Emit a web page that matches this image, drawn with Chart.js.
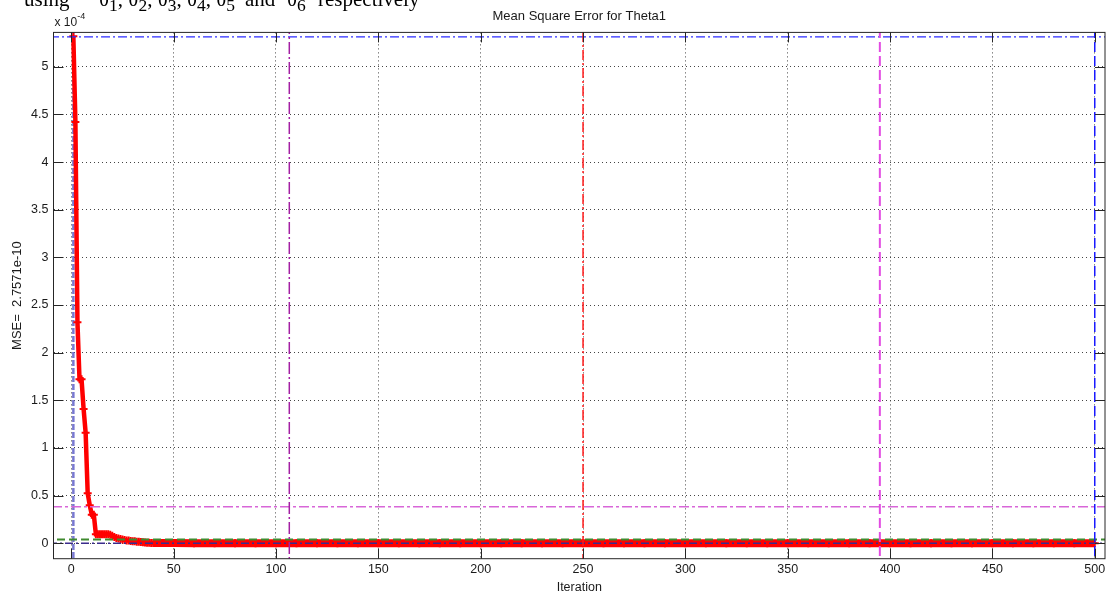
<!DOCTYPE html>
<html>
<head>
<meta charset="utf-8">
<script src="https://cdn.jsdelivr.net/npm/chart.js@4/dist/chart.umd.min.js"></script>
<style>
    html, body { margin: 0; padding: 0; background: #fff; }
    #wrap { position: relative; width: 1111px; height: 595px; }
    #caption { position: absolute; left: 0; top: 0; width: 1111px; height: 595px; pointer-events: none;
               font-family: "Liberation Serif", serif; font-size: 21px; color: #000; }
    #caption span { position: absolute; top: -13px; white-space: pre; }
</style>
</head>
<body>
<div id="wrap">
    <canvas id="mse-chart"></canvas>
    <!-- caption line of the page above the figure, mostly cut off -->
    <div id="caption">
        <span style="left:24px">using</span>
        <span style="left:99px">θ<sub>1</sub>, θ<sub>2</sub>, θ<sub>3</sub>, θ<sub>4</sub>, θ<sub>5</sub></span>
        <span style="left:245px">and</span>
        <span style="left:287px">θ<sub>6</sub></span>
        <span style="left:318px">respectively</span>
    </div>
</div>
<script>
// MSE of Theta1 per iteration, in units of 1e-4 (axis shows "x 10^-4")
var iterations = [1, 2, 3, 4, 5, 6, 7, 8, 9, 10, 11, 12, 13, 14, 15, 16, 17, 18, 19, 20,
    21, 22, 23, 24, 25, 26, 27, 28, 29, 30, 31, 32, 33, 34, 35, 36, 37, 38, 39, 40,
    45, 50, 60, 70, 80, 90, 100, 110, 120, 130, 140, 150, 160, 170, 180, 190, 200,
    210, 220, 230, 240, 250, 260, 270, 280, 290, 300, 310, 320, 330, 340, 350, 360,
    370, 380, 390, 400, 410, 420, 430, 440, 450, 460, 470, 480, 490, 500];
var mseValues = [5.32, 4.42, 2.32, 1.72, 1.72, 1.41, 1.16, 0.525, 0.40, 0.30, 0.30, 0.095, 0.095, 0.095, 0.095, 0.095, 0.095, 0.095, 0.09, 0.08,
    0.065, 0.055, 0.05, 0.045, 0.04, 0.035, 0.03, 0.03, 0.025, 0.02, 0.02, 0.015, 0.015, 0.012, 0.01, 0.008, 0.006, 0.005, 0.004, 0.003,
    0.003, 0.002, 0.001, 0.001, 0.001, 0.001, 0.001, 0, 0, 0, 0, 0, 0, 0, 0, 0, 0,
    0, 0, 0, 0, 0, 0, 0, 0, 0, 0, 0, 0, 0, 0, 0, 0,
    0, 0, 0, 0, 0, 0, 0, 0, 0, 0, 0, 0, 0, 0, 0, 0];

// marker lines drawn over the plot
var verticalMarks = [1, 106.5, 250, 395, 500];
var horizontalMarks = [5.315, 0.384, 0.04, 0];

var xTicks = [0, 50, 100, 150, 200, 250, 300, 350, 400, 450, 500];
var yTicks = [0, 0.5, 1, 1.5, 2, 2.5, 3, 3.5, 4, 4.5, 5];

var X_MIN = -8.7, X_MAX = 505, Y_MIN = -0.162, Y_MAX = 5.361;

var vStyles = [
    { color: 'rgba(96,96,200,0.85)', width: 2.5, dash: [6, 2], order: 5 },
    { color: '#a31fa3', width: 1.5, dash: [12, 3, 2, 3], order: 0 },
    { color: '#ff1a1a', width: 1.5, dash: [10, 3, 2, 3], order: 0 },
    { color: '#e24be2', width: 2, dash: [10, 4], order: 0 },
    { color: '#1a1aff', width: 1.5, dash: [10, 4], order: 0 }
];
var hStyles = [
    { color: '#2b2bff', width: 1.2, dash: [9, 3, 2, 3] },
    { color: '#d866d8', width: 1.5, dash: [10, 3, 3, 3] },
    { color: '#3f8a2f', width: 2, dash: [8, 4] },
    { color: '#3a2c8c', width: 1.5, dash: [8, 3, 2, 3] }
];

var FONT = '"Liberation Sans", Arial, sans-serif';

var datasets = [];
verticalMarks.forEach(function (v, i) {
    datasets.push({
        data: [{ x: v, y: Y_MIN - 1 }, { x: v, y: Y_MAX + 1 }],
        borderColor: vStyles[i].color,
        borderWidth: vStyles[i].width,
        borderDash: vStyles[i].dash,
        pointRadius: 0,
        order: vStyles[i].order
    });
});
horizontalMarks.forEach(function (h, i) {
    datasets.push({
        data: [{ x: X_MIN - 10, y: h }, { x: X_MAX + 10, y: h }],
        borderColor: hStyles[i].color,
        borderWidth: hStyles[i].width,
        borderDash: hStyles[i].dash,
        pointRadius: 0,
        order: 0
    });
});
datasets.push({
    data: iterations.map(function (it, i) { return { x: it, y: mseValues[i] }; }),
    borderColor: '#ff0000',
    borderWidth: 4.5,
    pointStyle: 'cross',
    pointRadius: 4,
    pointBorderWidth: 2,
    pointBorderColor: '#ff0000',
    segment: {
        borderWidth: function (ctx) { return ctx.p0.parsed.x >= 40 ? 8 : 4.5; }
    },
    order: 1
});

// MATLAB style box with inward tick marks and the exponent label
var matlabAxes = {
    id: 'matlabAxes',
    afterDraw: function (chart) {
        var ctx = chart.ctx, a = chart.chartArea;
        var xs = chart.scales.x, ys = chart.scales.y;
        ctx.save();
        ctx.strokeStyle = '#262626';
        ctx.lineWidth = 1;
        ctx.beginPath();
        xTicks.forEach(function (t) {
            var px = Math.round(xs.getPixelForValue(t)) + 0.5;
            ctx.moveTo(px, a.bottom); ctx.lineTo(px, a.bottom - 10);
            ctx.moveTo(px, a.top); ctx.lineTo(px, a.top + 10);
        });
        yTicks.forEach(function (t) {
            var py = Math.round(ys.getPixelForValue(t)) + 0.5;
            ctx.moveTo(a.left, py); ctx.lineTo(a.left + 10, py);
            ctx.moveTo(a.right, py); ctx.lineTo(a.right - 10, py);
        });
        ctx.stroke();
        ctx.strokeRect(a.left, a.top, a.right - a.left, a.bottom - a.top);

        ctx.fillStyle = '#1a1a1a';
        ctx.textBaseline = 'alphabetic';
        ctx.font = '12px ' + FONT;
        ctx.fillText('x 10', a.left + 1, 25.5);
        var w = ctx.measureText('x 10').width;
        ctx.font = '9px ' + FONT;
        ctx.fillText('-4', a.left + 1 + w, 18.5);
        ctx.restore();
    }
};

var ctxMse = document.getElementById('mse-chart').getContext('2d');
var mseChart = new Chart(ctxMse, {
    type: 'line',
    data: { datasets: datasets },
    plugins: [matlabAxes],
    options: {
        responsive: true,
        maintainAspectRatio: false,
        animation: false,
        events: [],
        layout: { padding: { left: 0, right: 6, top: 0, bottom: 0 } },
        plugins: {
            legend: { display: false },
            tooltip: { enabled: false },
            title: {
                display: true,
                fullSize: false,
                text: 'Mean Square Error for Theta1',
                color: '#1a1a1a',
                font: { family: FONT, size: 13, weight: 'normal' },
                padding: { top: 8.5, bottom: 8.3 }
            }
        },
        scales: {
            x: {
                type: 'linear',
                min: X_MIN,
                max: X_MAX,
                afterBuildTicks: function (s) { s.ticks = xTicks.map(function (v) { return { value: v }; }); },
                afterFit: function (s) { s.height = 36.3; },
                ticks: {
                    autoSkip: false,
                    maxRotation: 0,
                    padding: 3.5,
                    color: '#1a1a1a',
                    font: { family: FONT, size: 12.5 },
                    callback: function (v) { return String(v); }
                },
                grid: { color: '#444', lineWidth: 1, drawTicks: false },
                border: { display: false, dash: [1, 3] },
                title: {
                    display: true,
                    text: 'Iteration',
                    color: '#1a1a1a',
                    font: { family: FONT, size: 12.5 },
                    padding: { top: 0, bottom: 0 }
                }
            },
            y: {
                type: 'linear',
                min: Y_MIN,
                max: Y_MAX,
                afterBuildTicks: function (s) { s.ticks = yTicks.map(function (v) { return { value: v }; }); },
                afterFit: function (s) { s.width = 53.5; },
                ticks: {
                    autoSkip: false,
                    padding: 5,
                    color: '#1a1a1a',
                    font: { family: FONT, size: 12.5 },
                    callback: function (v) { return String(Math.round(v * 10) / 10); }
                },
                grid: { color: '#444', lineWidth: 1, drawTicks: false },
                border: { display: false, dash: [1, 3] },
                title: {
                    display: true,
                    text: 'MSE=  2.7571e-10',
                    color: '#1a1a1a',
                    font: { family: FONT, size: 13 },
                    padding: { top: 10, bottom: 0 }
                }
            }
        }
    }
});
</script>
</body>
</html>
